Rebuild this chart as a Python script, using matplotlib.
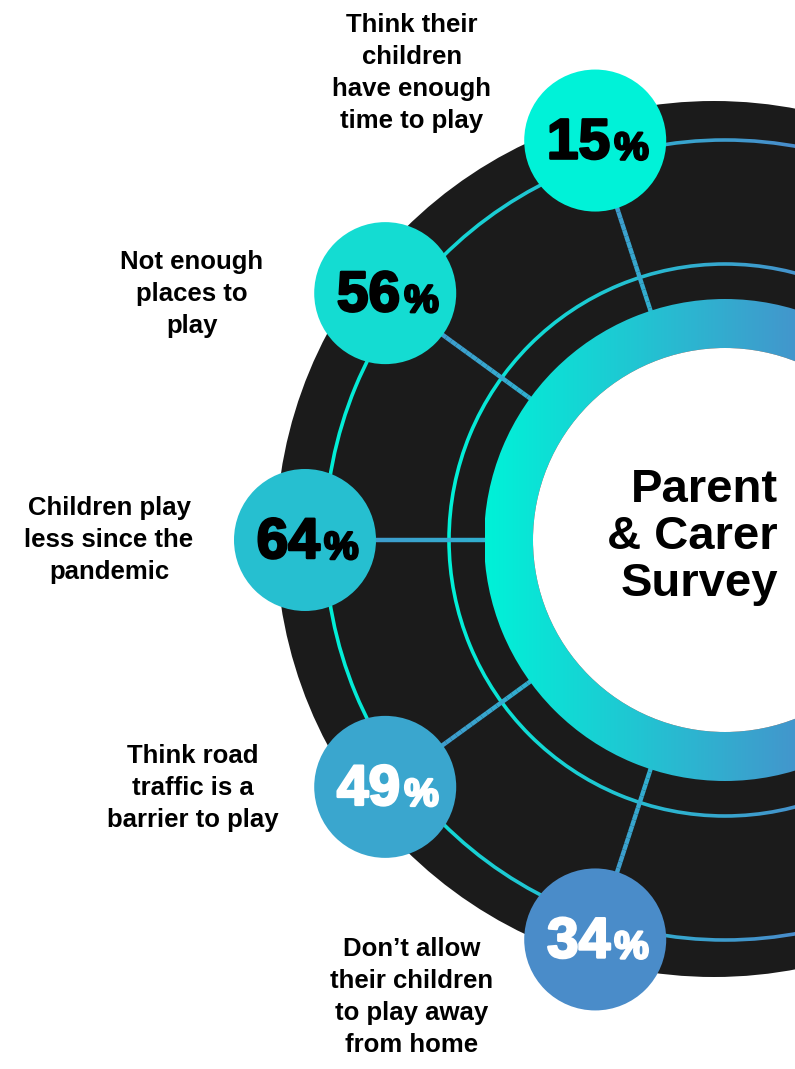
import numpy as np
import matplotlib
matplotlib.use("Agg")
import matplotlib.pyplot as plt
from matplotlib.patches import Circle, Wedge
from matplotlib.colors import LinearSegmentedColormap
from matplotlib.collections import LineCollection
import matplotlib.patheffects as pe

# survey results, top to bottom
values = [15, 56, 64, 49, 34]
labels = [
    "Think their\nchildren\nhave enough\ntime to play",
    "Not enough\nplaces to\nplay",
    "Children play\nless since the\npandemic",
    "Think road\ntraffic is a\nbarrier to play",
    "Don\u2019t allow\ntheir children\nto play away\nfrom home",
]
bubble_colors = ["#00F2D8", "#14DCD2", "#26BFD0", "#3AA6CE", "#4A8CC9"]
number_colors = ["black", "black", "black", "white", "white"]
title = "Parent\n& Carer\nSurvey"

# layout (pixels, y grows downward)
W, H = 795, 1069
cx, cy = 725, 540
bubble_ring = 420
bubble_r = 71
label_pos = [(412, 73), (192, 294), (109, 540), (193, 788), (412, 997)]

plt.rcParams['font.family'] = ['Liberation Sans', 'DejaVu Sans']

fig = plt.figure(figsize=(W / 100, H / 100), dpi=100)
ax = fig.add_axes([0, 0, 1, 1])
ax.set_xlim(0, W)
ax.set_ylim(H, 0)
ax.set_aspect('equal')
ax.axis('off')

cmap = LinearSegmentedColormap.from_list('tealblue', ['#00F2D8', '#4A8CCB'])
grad = np.linspace(0, 1, 256).reshape(1, -1)


def gradient_annulus(r_out, width, x0, x1, z):
    clip = Wedge((cx, cy), r_out, 0, 360, width=width, facecolor='none',
                 edgecolor='none', transform=ax.transData)
    ax.add_patch(clip)
    im = ax.imshow(grad, cmap=cmap, extent=(x0, x1, H, 0), aspect='auto',
                   interpolation='bicubic', zorder=z)
    im.set_clip_path(clip)


# black backdrop disc
ax.add_patch(Circle((714, 539), 438, facecolor='#1B1B1B', edgecolor='none', zorder=1))

# thin rings
gradient_annulus(401.8, 3.6, 320, 800, 2)
gradient_annulus(277.8, 3.6, 445, 820, 2)

# spokes from donut to bubbles
angles = np.radians(108 + 36 * np.arange(len(values)))
for a in angles:
    r = np.linspace(238, bubble_ring, 30)
    xs = cx + r * np.cos(a)
    ys = cy - r * np.sin(a)
    pts = np.column_stack([xs, ys]).reshape(-1, 1, 2)
    segs = np.concatenate([pts[:-1], pts[1:]], axis=1)
    lc = LineCollection(segs, colors=cmap(np.linspace(0.65, 0.95, len(segs))),
                        linewidths=3.2, zorder=3, capstyle='butt')
    ax.add_collection(lc)

# thick gradient donut with white centre
gradient_annulus(241, 49, 485, 830, 4)
ax.add_patch(Circle((cx, cy), 192, facecolor='white', edgecolor='none', zorder=4))

# bubbles with percentages
for v, a, col, tcol in zip(values, angles, bubble_colors, number_colors):
    bx = cx + bubble_ring * np.cos(a)
    by = cy - bubble_ring * np.sin(a)
    ax.add_patch(Circle((bx, by), bubble_r, facecolor=col, edgecolor='none', zorder=5))
    fx = [pe.withStroke(linewidth=1.8, foreground=tcol)]
    ax.text(bx + 15, by + 18, str(v), ha='right', va='baseline', fontsize=41,
            fontweight='bold', color=tcol, zorder=6, path_effects=fx)
    ax.text(bx + 19, by + 19, "%", ha='left', va='baseline', fontsize=28,
            fontweight='bold', color=tcol, zorder=6, path_effects=fx)

# category labels
for lab, (lx, ly) in zip(labels, label_pos):
    ax.text(lx, ly, lab, ha='center', va='center', fontsize=18.5,
            fontweight='bold', color='black', linespacing=1.42, multialignment='center')

# centre title
ax.text(778, 537, title, ha='right', va='center', fontsize=34, fontweight='bold',
        color='black', linespacing=1.08, multialignment='right', zorder=7)

fig.savefig('out.png', dpi=100, facecolor='white')
